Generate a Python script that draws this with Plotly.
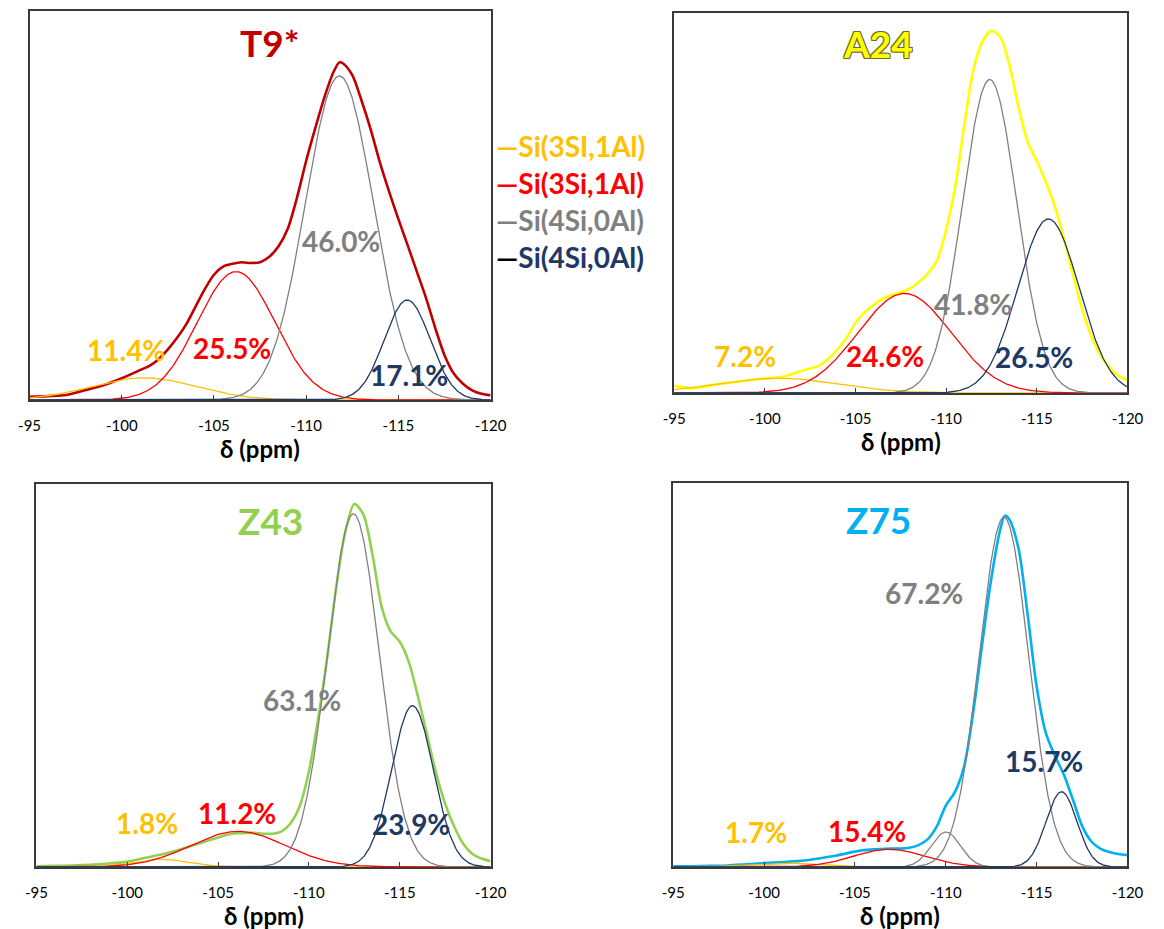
import numpy as np
import plotly.graph_objects as go

# ---------------------------------------------------------------------------
# 29Si MAS NMR spectra (measured envelope) and their Gaussian deconvolution
# ---------------------------------------------------------------------------
SAMPLES = ["T9*", "A24", "Z43", "Z75"]
SAMPLE_COLORS = ["#C00000", "#FFFF00", "#92D050", "#00B0F0"]

PPM_TICKS = [-95, -100, -105, -110, -115, -120]

# measured spectra: chemical shift (ppm) and normalised intensity
T9_PPM = [-95, -96, -97, -98, -99, -100, -101, -101.5, -102, -102.5, -103, -103.5,
          -104, -104.5, -105, -105.5, -106, -106.5, -107, -107.5, -108, -108.5,
          -109, -109.5, -110, -110.5, -111, -111.5, -111.8, -112, -112.5, -113,
          -113.5, -114, -114.5, -115, -115.5, -116, -116.5, -117, -117.5, -118,
          -118.5, -119, -119.5, -120]
T9_INT = [0.008, 0.010, 0.013, 0.025, 0.038, 0.056, 0.077, 0.088, 0.105, 0.130, 0.160, 0.195,
          0.240, 0.285, 0.322, 0.343, 0.350, 0.354, 0.352, 0.354, 0.368, 0.395,
          0.440, 0.520, 0.615, 0.700, 0.780, 0.845, 0.868, 0.865, 0.835, 0.770,
          0.695, 0.610, 0.535, 0.465, 0.398, 0.330, 0.262, 0.185, 0.115, 0.068,
          0.042, 0.025, 0.016, 0.012]

A24_PPM = [-95, -95.5, -96, -97, -98, -99, -100, -101, -102, -103, -103.5, -104,
           -104.5, -105, -105.5, -106, -106.5, -107, -107.5, -108, -108.5, -109,
           -109.5, -110, -110.5, -111, -111.5, -112, -112.5, -113, -113.5, -114,
           -114.5, -115, -115.5, -116, -116.5, -117, -117.5, -118, -118.5, -119,
           -119.5, -120]
A24_INT = [0.018, 0.016, 0.012, 0.020, 0.027, 0.033, 0.038, 0.043, 0.058, 0.072, 0.090, 0.115,
           0.145, 0.185, 0.212, 0.232, 0.248, 0.258, 0.265, 0.275, 0.292, 0.315,
           0.350, 0.430, 0.543, 0.705, 0.850, 0.925, 0.953, 0.935, 0.860, 0.750,
           0.660, 0.610, 0.555, 0.490, 0.405, 0.310, 0.220, 0.150, 0.100, 0.068,
           0.045, 0.033]

Z43_PPM = [-95, -96, -97, -98, -99, -100, -101, -102, -103, -104, -105, -105.5,
           -106, -106.5, -107, -107.5, -108, -108.5, -109, -109.5, -110, -110.5,
           -111, -111.5, -112, -112.5, -113, -113.5, -114, -114.5, -115, -115.5,
           -116, -116.5, -117, -117.5, -118, -118.5, -119, -119.5, -120]
Z43_INT = [0.002, 0.003, 0.004, 0.006, 0.009, 0.014, 0.024, 0.034, 0.047, 0.062, 0.077, 0.084,
           0.088, 0.089, 0.089, 0.087, 0.087, 0.093, 0.115, 0.160, 0.250, 0.385,
           0.545, 0.730, 0.875, 0.948, 0.920, 0.815, 0.680, 0.615, 0.588, 0.535,
           0.445, 0.345, 0.245, 0.165, 0.105, 0.060, 0.034, 0.022, 0.015]

Z75_PPM = [-95, -96, -97, -98, -99, -100, -101, -102, -103, -104, -105, -105.5,
           -106, -106.5, -107, -107.5, -108, -108.5, -109, -109.5, -110, -110.5,
           -111, -111.5, -112, -112.5, -113, -113.25, -113.5, -114, -114.5, -115,
           -115.5, -116, -116.5, -117, -117.5, -118, -118.5, -119, -119.5, -120]
Z75_INT = [0.002, 0.002, 0.003, 0.004, 0.007, 0.010, 0.013, 0.016, 0.022, 0.030, 0.040, 0.044,
           0.046, 0.047, 0.048, 0.048, 0.050, 0.057, 0.072, 0.105, 0.160, 0.195,
           0.260, 0.400, 0.580, 0.750, 0.880, 0.915, 0.905, 0.830, 0.660, 0.470,
           0.350, 0.290, 0.240, 0.175, 0.107, 0.067, 0.048, 0.039, 0.034, 0.031]

# fitted components: site index (0 = Si(3SI,1Al), 1 = Si(3Si,1Al),
# 2 = Si(4Si,0Al) grey, 3 = Si(4Si,0Al) blue), centre (ppm), FWHM (ppm), height
T9_SITE = [0, 1, 2, 3]
T9_CENTER = [-101.2, -106.2, -111.8, -115.48]
T9_FWHM = [6.7, 4.95, 4.35, 2.92]
T9_HEIGHT = [0.057, 0.330, 0.833, 0.257]

A24_SITE = [0, 1, 2, 3]
A24_CENTER = [-100.7, -107.7, -112.4, -115.64]
A24_FWHM = [7.8, 6.05, 3.53, 3.96]
A24_HEIGHT = [0.039, 0.262, 0.825, 0.458]

Z43_SITE = [0, 1, 2, 3]
Z43_CENTER = [-101.9, -106.1, -112.45, -115.7]
Z43_FWHM = [3.5, 6.1, 3.35, 2.7]
Z43_HEIGHT = [0.020, 0.093, 0.922, 0.421]

Z75_SITE = [0, 1, 2, 2, 3]
Z75_CENTER = [-101.2, -106.9, -110.0, -113.2, -116.37]
Z75_FWHM = [4.7, 4.7, 1.9, 3.2, 2.0]
Z75_HEIGHT = [0.010, 0.046, 0.091, 0.911, 0.196]

# relative populations of the Si sites (%)
T9_PCT = [11.4, 25.5, 46.0, 17.1]
A24_PCT = [7.2, 24.6, 41.8, 26.5]
Z43_PCT = [1.8, 11.2, 63.1, 23.9]
Z75_PCT = [1.7, 15.4, 67.2, 15.7]

SITE_NAMES = ["Si(3SI,1Al)", "Si(3Si,1Al)", "Si(4Si,0Al)", "Si(4Si,0Al)"]
SITE_COLORS = ["#FFC000", "#FF0000", "#808080", "#203864"]
LEGEND_DASH = ["#FFC000", "#FF0000", "#808080", "#000000"]

# label anchor points (ppm, intensity) for the percentages and sample names
T9_PCT_POS = [(-100.24, 0.129), (-105.96, 0.134), (-111.9, 0.409), (-115.6, 0.064)]
A24_PCT_POS = [(-98.88, 0.097), (-106.64, 0.097), (-111.49, 0.234), (-114.83, 0.095)]
Z43_PCT_POS = [(-101.08, 0.116), (-106.03, 0.142), (-109.63, 0.436), (-115.6, 0.113)]
Z75_PCT_POS = [(-99.55, 0.091), (-105.68, 0.093), (-108.8, 0.714), (-115.4, 0.276)]
NAME_POS = [(-108.03, 0.918), (-106.26, 0.921), (-107.91, 0.906), (-106.27, 0.905)]

PANELS = [
    dict(ppm=T9_PPM, inten=T9_INT, site=T9_SITE, center=T9_CENTER, fwhm=T9_FWHM,
         height=T9_HEIGHT, pct=T9_PCT, pct_pos=T9_PCT_POS),
    dict(ppm=A24_PPM, inten=A24_INT, site=A24_SITE, center=A24_CENTER, fwhm=A24_FWHM,
         height=A24_HEIGHT, pct=A24_PCT, pct_pos=A24_PCT_POS),
    dict(ppm=Z43_PPM, inten=Z43_INT, site=Z43_SITE, center=Z43_CENTER, fwhm=Z43_FWHM,
         height=Z43_HEIGHT, pct=Z43_PCT, pct_pos=Z43_PCT_POS),
    dict(ppm=Z75_PPM, inten=Z75_INT, site=Z75_SITE, center=Z75_CENTER, fwhm=Z75_FWHM,
         height=Z75_HEIGHT, pct=Z75_PCT, pct_pos=Z75_PCT_POS),
]

W, H = 1164, 929
# panel boxes in pixels: left, right, top, bottom
BOXES = [(19, 491, 11, 400), (679, 1143, 13, 393), (26, 491, 484, 867), (678, 1143, 483, 867)]

FONT = "Lato, 'Open Sans', sans-serif"
FRAME = "#3a3a3a"

fig = go.Figure()
grid = np.linspace(-95, -120, 501)

for i, (p, box) in enumerate(zip(PANELS, BOXES)):
    xa = "x" if i == 0 else f"x{i + 1}"
    ya = "y" if i == 0 else f"y{i + 1}"
    # measured spectrum
    fig.add_trace(go.Scatter(x=p["ppm"], y=p["inten"], mode="lines", xaxis=xa, yaxis=ya,
                             line=dict(color=SAMPLE_COLORS[i], width=2.6, shape="spline",
                                       smoothing=0.8),
                             showlegend=False, hoverinfo="skip"))
    # Gaussian components of the fit
    order = sorted(range(len(p["site"])), key=lambda k: p["site"][k])
    for k in order:
        sigma = p["fwhm"][k] / (2 * np.sqrt(2 * np.log(2)))
        comp = p["height"][k] * np.exp(-0.5 * ((grid - p["center"][k]) / sigma) ** 2)
        fig.add_trace(go.Scatter(x=grid, y=comp, mode="lines", xaxis=xa, yaxis=ya,
                                 line=dict(color=SITE_COLORS[p["site"][k]], width=1.3),
                                 showlegend=False, hoverinfo="skip"))

    l, r, t, b = box
    xdom = [l / W, r / W]
    ydom = [1 - b / H, 1 - t / H]
    axis_common = dict(showline=True, mirror=True, linecolor=FRAME, linewidth=1.8,
                       showgrid=False, zeroline=False)
    fig.update_layout(**{
        ("xaxis" if i == 0 else f"xaxis{i + 1}"): dict(
            domain=xdom, range=[-95, -120], anchor=ya, tickmode="array",
            tickvals=PPM_TICKS, ticktext=[str(v) for v in PPM_TICKS],
            ticks="inside", ticklen=5, tickwidth=1.2, tickcolor=FRAME,
            ticklabelstandoff=11,
            tickfont=dict(family=FONT, size=15, color="#000000"), **axis_common),
        ("yaxis" if i == 0 else f"yaxis{i + 1}"): dict(
            domain=ydom, range=[0, 1], anchor=xa, showticklabels=False, ticks="",
            **axis_common),
    })

    # axis title
    fig.add_annotation(text="δ (ppm)", xref="paper", yref="paper",
                       x=(l + r) / 2 / W, y=1 - (b + 48) / H, showarrow=False,
                       xanchor="center", yanchor="middle",
                       font=dict(family=FONT, size=24, color="#000000", weight="bold"))

    # sample name
    nx, ny = NAME_POS[i]
    name_font = dict(family=FONT, size=37, color=SAMPLE_COLORS[i], weight="bold")
    if SAMPLES[i] == "A24":
        name_font["shadow"] = ("1px 1px 0 #6b6b2a, -1px -1px 0 #6b6b2a, "
                               "1px -1px 0 #6b6b2a, -1px 1px 0 #6b6b2a")
    fig.add_annotation(text=SAMPLES[i], xref=xa, yref=ya, x=nx, y=ny, showarrow=False,
                       xanchor="center", yanchor="middle", font=name_font)

    # site percentages
    for site, pct, (px, py) in zip(range(4), p["pct"], p["pct_pos"]):
        fig.add_annotation(text=f"{pct:.1f}%", xref=xa, yref=ya, x=px, y=py,
                           showarrow=False, xanchor="center", yanchor="middle",
                           font=dict(family=FONT, size=28, color=SITE_COLORS[site],
                                     weight="bold"))

# legend of the component sites
legend_y = [146, 183, 220, 257]
for site, yy in enumerate(legend_y):
    fig.add_annotation(
        text=f"<span style='color:{LEGEND_DASH[site]}'>—</span>{SITE_NAMES[site]}",
        xref="paper", yref="paper", x=494 / W, y=1 - yy / H,
        xanchor="left", yanchor="middle", showarrow=False,
        font=dict(family=FONT, size=28, color=SITE_COLORS[site], weight="bold"))

fig.update_layout(width=W, height=H, margin=dict(l=0, r=0, t=0, b=0),
                  paper_bgcolor="#FFFFFF", plot_bgcolor="#FFFFFF", showlegend=False)

fig.write_html("out.html")
